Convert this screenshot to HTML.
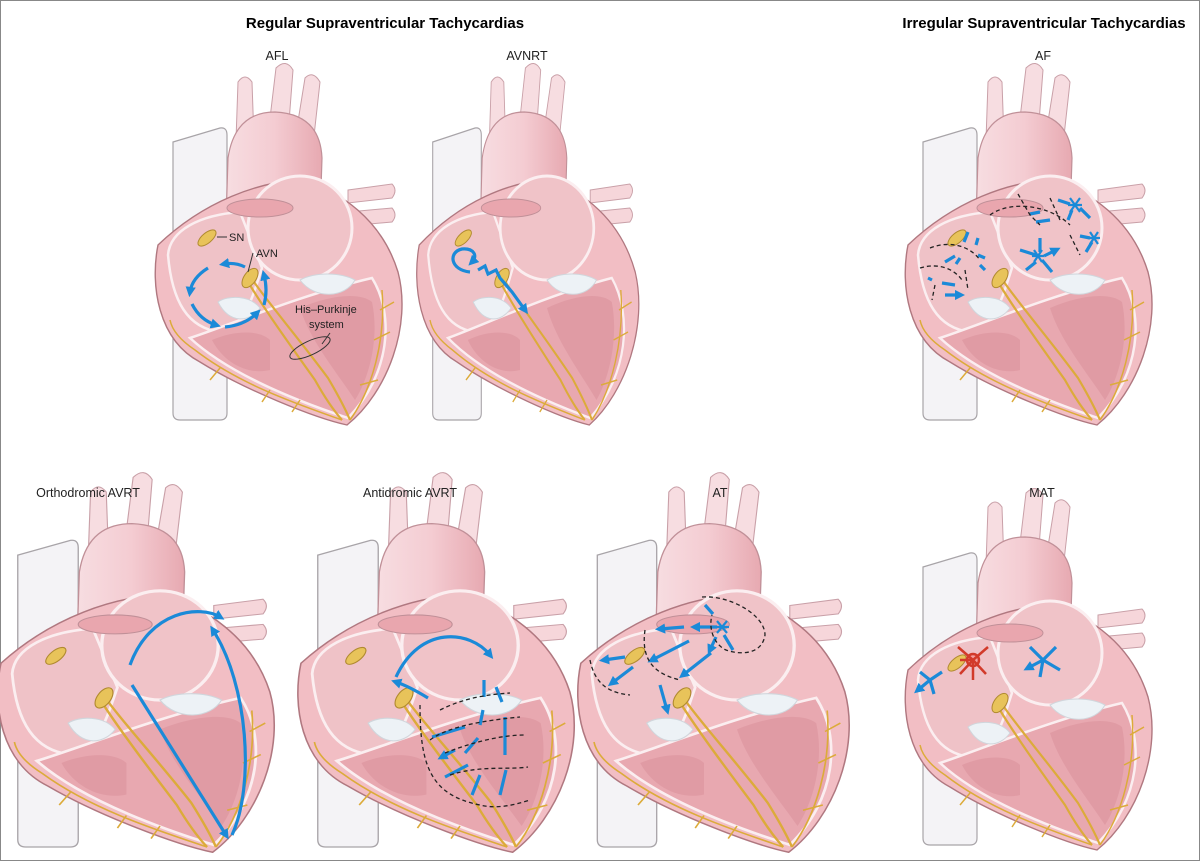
<!DOCTYPE html>
<html><head><meta charset="utf-8"><style>
html,body{margin:0;padding:0;background:#fff}
svg{display:block}
text{font-family:"Liberation Sans",sans-serif}
</style></head><body>
<svg width="1200" height="861" viewBox="0 0 1200 861" xmlns="http://www.w3.org/2000/svg">
<defs>
<marker id="ar" viewBox="0 0 10 10" refX="5" refY="5" markerWidth="3.2" markerHeight="3.2" orient="auto"><path d="M0,0 L10,5 L0,10 z" fill="#1b8ad8"/></marker>
<linearGradient id="ag" x1="0" y1="0" x2="1" y2="0"><stop offset="0" stop-color="#f7dde1"/><stop offset=".5" stop-color="#f4ccd2"/><stop offset="1" stop-color="#e7a9b1"/></linearGradient>
<g id="heart">
  <path d="M23,102 L70,88 Q77,87 77,95 L77,373 Q77,380 70,380 L30,380 Q23,380 23,373 Z" fill="#f4f3f6" stroke="#a8a4a8" stroke-width="1.2"/>
  <path d="M86,100 L88,42 Q95,32 102,42 L104,100 Z" fill="#f7dde1" stroke="#c9a0a8"/>
  <path d="M118,95 L126,28 Q136,18 143,30 L138,95 Z" fill="#f7dde1" stroke="#c9a0a8"/>
  <path d="M145,100 L155,38 Q163,30 170,42 L163,105 Z" fill="#f7dde1" stroke="#c9a0a8"/>
  <path d="M76,180 L78,118 Q85,72 125,72 Q170,74 172,118 L170,180 Z" fill="url(#ag)" stroke="#c09098" stroke-width="1.2"/>
  <path d="M198,150 L242,144 Q248,150 242,158 L198,163 Z" fill="#f6d6da" stroke="#c9a0a8"/>
  <path d="M198,172 L242,168 Q248,175 242,182 L198,186 Z" fill="#f6d6da" stroke="#c9a0a8"/>
  <path d="M8,205 C0,245 8,300 50,322 C95,350 165,378 197,385 C238,352 262,285 248,232 C232,180 190,150 150,140 C110,142 55,160 8,205 Z" fill="#f2bec4" stroke="#b07880" stroke-width="1.4"/>
  <path d="M18,215 C20,190 50,175 90,172 L112,228 C102,258 96,285 70,292 C38,288 22,262 18,215 Z" fill="#efc2c7" stroke="#fbeef0" stroke-width="2.5"/>
  <circle cx="150" cy="188" r="52" fill="#f0c3c8" stroke="#fbeef0" stroke-width="3"/>
  <ellipse cx="110" cy="168" rx="33" ry="9" fill="#e9a6ae" stroke="#c09098"/>
  <path d="M40,298 C80,285 150,255 222,238 C245,275 240,335 198,378 C150,362 80,335 40,298 Z" fill="#e8a8b0" stroke="#fbeef0" stroke-width="2.5"/>
  <path d="M62,300 C85,290 110,290 120,300 L120,330 C100,335 75,325 62,300 Z" fill="#dd96a0" opacity=".7"/>
  <path d="M150,268 C180,255 210,252 222,262 C230,300 218,340 205,360 C185,330 160,300 150,268 Z" fill="#dd96a0" opacity=".7"/>
  <path d="M68,262 C78,255 100,255 110,268 C100,282 80,285 68,262 Z" fill="#edf2f6" stroke="#d0d6dc"/>
  <path d="M150,240 C165,232 190,232 205,240 C195,258 165,260 150,240 Z" fill="#edf2f6" stroke="#d0d6dc"/>
  <path d="M98,242 C115,270 140,305 165,340 C175,358 185,372 192,380" fill="none" stroke="#dcab3a" stroke-width="2.2"/>
  <path d="M104,242 C120,265 150,300 178,338 C188,355 195,368 200,380" fill="none" stroke="#dcab3a" stroke-width="2.2"/>
  <path d="M200,380 C222,350 236,300 232,250 M192,380 C150,365 90,345 45,310 C30,300 22,290 20,280 M70,328 L60,340 M120,350 L112,362 M224,300 L240,292 M230,270 L244,262 M210,345 L228,340 M150,360 L142,372" fill="none" stroke="#dcab3a" stroke-width="1.5"/>
  <ellipse cx="57" cy="198" rx="5" ry="11" fill="#e8c35a" stroke="#b08a30" transform="rotate(50 57 198)"/>
  <ellipse cx="100" cy="238" rx="6" ry="11" fill="#e8c35a" stroke="#b08a30" transform="rotate(35 100 238)"/>
</g>
</defs>
<rect x="0.5" y="0.5" width="1199" height="860" fill="#fff" stroke="#888"/>
<use href="#heart" transform="translate(150,40)"/>
<use href="#heart" transform="translate(412,40) scale(0.9,1)"/>
<use href="#heart" transform="translate(900,40)"/>
<use href="#heart" transform="translate(-8,448) scale(1.12,1.05)"/>
<use href="#heart" transform="translate(292,448) scale(1.12,1.05)"/>
<use href="#heart" transform="translate(572,448) scale(1.1,1.05)"/>
<use href="#heart" transform="translate(900,465)"/>
<text x="385" y="28" font-size="15" font-weight="bold" text-anchor="middle">Regular Supraventricular Tachycardias</text>
<text x="1044" y="28" font-size="15" font-weight="bold" text-anchor="middle">Irregular Supraventricular Tachycardias</text>
<g font-size="12.5" text-anchor="middle" fill="#222">
<text x="277" y="60">AFL</text><text x="527" y="60">AVNRT</text><text x="1043" y="60">AF</text>
<text x="88" y="497">Orthodromic AVRT</text><text x="410" y="497">Antidromic AVRT</text><text x="720" y="497">AT</text><text x="1042" y="497">MAT</text>
</g>
<g fill="none" stroke="#1b8ad8" stroke-width="3.2" marker-end="url(#ar)">
  <path d="M245,267 Q235,262 224,264"/>
  <path d="M208,268 Q192,278 190,292"/>
  <path d="M192,304 Q200,320 216,325"/>
  <path d="M225,327 Q245,325 257,313"/>
  <path d="M264,305 Q268,290 264,275"/>
  <path d="M470,272 C450,270 448,252 462,249 C474,248 478,256 472,262"/>
  <path d="M478,270 L485,266 L488,274 L496,270 L500,278 L512,292 L525,310"/>
  <path d="M130,665 C150,610 200,605 220,617"/>
  <path d="M232,835 C255,785 248,685 213,630"/>
  <path d="M132,685 L226,835"/>
  <path d="M396,677 C420,625 470,630 490,655"/>
  <path d="M428,698 C415,690 405,685 396,682"/>
  <path d="M484,680 L484,697 M483,710 L480,725 M478,738 L465,753 M468,765 L445,777 M465,727 L432,737 M496,687 L502,702 M505,717 L505,755 M506,770 L500,795 M480,775 L472,795 M455,750 L442,757"/>
  <path d="M717,627 L695,627"/>
  <path d="M684,627 L660,629"/>
  <path d="M689,641 L652,660"/>
  <path d="M711,653 L683,675"/>
  <path d="M713,614 L705,605 M724,635 L733,650 M716,637 L710,650"/>
  <path d="M625,657 L604,660"/>
  <path d="M633,667 L612,683"/>
  <path d="M660,685 L667,710"/>
  <path d="M1070,204 L1058,200 M1072,210 L1068,220 M1080,208 L1090,218 M1030,214 L1040,212 M1050,220 L1036,222 M1090,238 L1080,236 M1092,242 L1086,252 M1036,255 L1020,250 M1040,252 L1040,238 M1042,260 L1052,272 M1036,262 L1026,270 M1044,256 L1056,250"/>
  <path d="M968,232 L964,242 M978,238 L976,245 M955,256 L945,262 M960,258 L956,264 M985,258 L978,255 M980,265 L985,270 M932,280 L928,278 M942,283 L955,285 M945,295 L960,295"/>
  <path d="M1043,660 L1030,647 M1043,660 L1056,647 M1043,660 L1060,670 M1043,660 L1040,677 M1043,660 L1028,668"/>
  <path d="M930,680 L920,672 M930,680 L942,672 M930,680 L934,694 M930,680 L918,690"/>
</g>
<g fill="none" stroke="#222" stroke-width="1.3" stroke-dasharray="4 3">
  <path d="M702,597 C730,595 765,615 765,635 C762,655 740,655 726,650 C715,645 708,630 712,615"/>
  <path d="M645,630 C640,665 660,675 680,680"/>
  <path d="M590,660 C595,685 610,693 630,695"/>
  <path d="M420,705 C420,765 430,795 480,805 C500,810 520,803 530,800 M440,710 C460,700 480,695 510,693 M430,740 C450,725 490,720 520,717 M445,753 C470,743 500,735 525,735 M450,775 C480,765 510,770 528,767"/>
  <path d="M990,215 C1010,200 1050,205 1070,225 M1018,194 L1030,215 L1040,225 M1050,198 L1060,220 M1070,235 L1080,255 M930,248 C950,240 970,246 980,260 M920,268 C940,262 955,270 962,280 M935,285 L932,300 M965,270 L968,290"/>
</g>
<g stroke="#1b8ad8" stroke-width="2.2">
<path d="M1070,198 L1080,212 M1080,198 L1070,212 M1068,205 L1082,205"/>
<path d="M1090,232 L1098,244 M1098,232 L1090,244 M1088,238 L1100,238"/>
<path d="M1034,250 L1042,262 M1042,250 L1034,262 M1032,256 L1044,256"/>
<path d="M717,621 L727,633 M727,621 L717,633 M715,627 L729,627"/>
</g>
<g stroke="#d23a2a" stroke-width="2.5" fill="none">
<circle cx="973" cy="660" r="6" fill="#f5a0a0"/>
<path d="M973,660 L958,647 M973,660 L988,647 M973,660 L960,674 M973,660 L986,674 M973,660 L973,680 M973,660 L960,660"/>
</g>
<g font-size="11" fill="#222">
<text x="229" y="241">SN</text><text x="256" y="257">AVN</text>
<text x="295" y="313">His–Purkinje</text><text x="309" y="328">system</text>
</g>
<path d="M217,237 L227,237 M253,253 L248,272 M330,333 L322,344" stroke="#333" fill="none"/>
<ellipse cx="310" cy="348" rx="22" ry="7" fill="none" stroke="#333" transform="rotate(-25 310 348)"/>
</svg>
</body></html>
